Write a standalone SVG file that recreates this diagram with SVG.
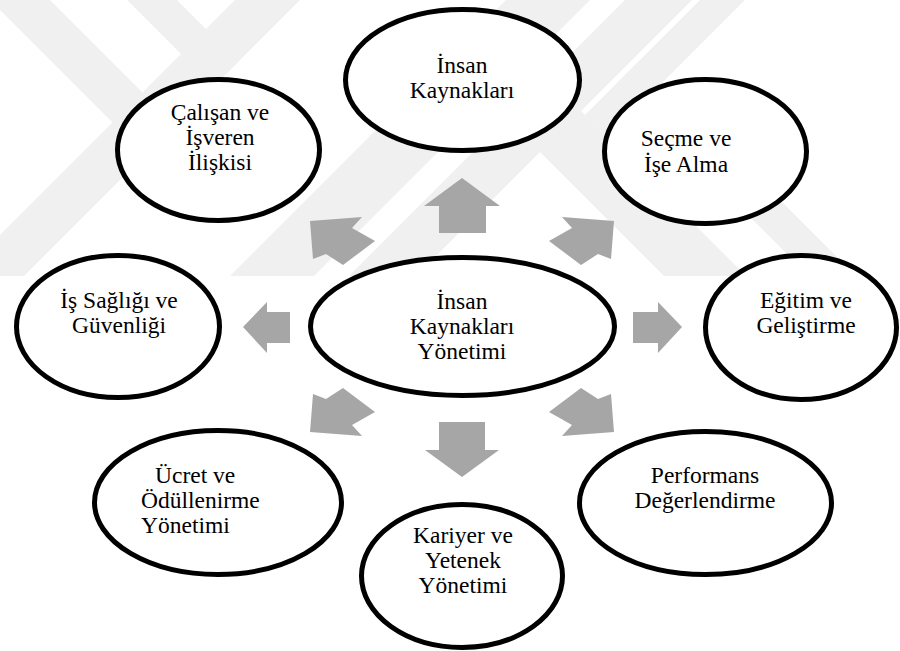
<svg xmlns="http://www.w3.org/2000/svg" width="900" height="651" viewBox="0 0 900 651">
  <style>
    .wm { fill: #f0f0f0; }
    .node ellipse { fill: #ffffff; stroke: #000000; stroke-width: 5; }
    .node text { font-size: 23.5px; fill: #000000; text-anchor: middle; }
    .node text.left { text-anchor: start; }
    .arrow { fill: #a6a6a6; }
  </style>
  <defs>
    <clipPath id="wmclip"><rect x="0" y="0" width="900" height="276"/></clipPath>
  </defs>
  <rect x="0" y="0" width="900" height="651" fill="#ffffff"/>
  <g id="watermark" clip-path="url(#wmclip)">
    <polygon class="wm" points="235,0 300,0 24,276 -41,276"/>
    <polygon class="wm" points="-10,0 50,0 175,125 145,155"/>
    <polygon class="wm" points="127,0 177,0 238.5,61.5 213.5,86.5"/>
    <polygon class="wm" points="506,0 590,0 314,276 230,276"/>
    <polygon class="wm" points="625,0 692,0 416,276 349,276"/>
    <polygon class="wm" points="506.5,118.5 547.5,77.5 746,276 664,276"/>
    <polygon class="wm" points="700,0 745,0 607.5,137.5 585,115"/>
    <polygon class="wm" points="616.5,83.5 640,60 856,276 809,276"/>
  </g>
  <g id="connectors">
    <polygon class="arrow" points="462,178 500,206 486,206 486,233 439,233 439,206 424,206"/>
    <polygon class="arrow" points="439,422 485,422 485,450 499,450 462,477 425,450 439,450"/>
    <polygon class="arrow" points="243,327 267,302 267,312 290,312 290,343 267,343 267,353"/>
    <polygon class="arrow" points="633,312 658,312 658,302 682,327 658,353 658,343 633,343"/>
    <polygon class="arrow" points="310,221 362,217 352,228 375,241 343,265 326,254 313,259"/>
    <polygon class="arrow" points="614,221 562,217 572,228 549,241 581,265 598,254 611,259"/>
    <polygon class="arrow" points="310,432 362,436 352,425 375,412 343,388 326,399 313,394"/>
    <polygon class="arrow" points="614,432 562,436 572,425 549,412 581,388 598,399 611,394"/>
  </g>
  <g font-family="'Liberation Serif', 'Times New Roman', serif">
  <g id="node-insan-kaynaklari" class="node">
    <ellipse cx="462.5" cy="80" rx="117" ry="70.5"/>
    <text x="462" y="72.5">İnsan</text>
    <text x="462" y="97.5">Kaynakları</text>
  </g>
  <g id="node-calisan-isveren" class="node">
    <ellipse cx="218.5" cy="150" rx="101" ry="70.5"/>
    <text x="220" y="120">Çalışan ve</text>
    <text x="220" y="145">İşveren</text>
    <text x="220" y="170">İlişkisi</text>
  </g>
  <g id="node-secme" class="node">
    <ellipse cx="705.5" cy="151.5" rx="101" ry="72"/>
    <text x="686" y="146">Seçme ve</text>
    <text x="686" y="172">İşe Alma</text>
  </g>
  <g id="node-ik-yonetimi" class="node">
    <ellipse cx="462.5" cy="326.5" rx="152" ry="69"/>
    <text x="462" y="309">İnsan</text>
    <text x="462" y="334">Kaynakları</text>
    <text x="462" y="359">Yönetimi</text>
  </g>
  <g id="node-is-sagligi" class="node">
    <ellipse cx="118" cy="326.5" rx="101.5" ry="71"/>
    <text x="119" y="308">İş Sağlığı ve</text>
    <text x="119" y="333">Güvenliği</text>
  </g>
  <g id="node-egitim" class="node">
    <ellipse cx="801" cy="327.5" rx="95.5" ry="72"/>
    <text x="806" y="308">Eğitim ve</text>
    <text x="806" y="333">Geliştirme</text>
  </g>
  <g id="node-ucret" class="node">
    <ellipse cx="218" cy="502.5" rx="123.5" ry="72"/>
    <text class="left" x="155" y="483">Ücret ve</text>
    <text class="left" x="141" y="508">Ödüllenirme</text>
    <text class="left" x="141" y="533">Yönetimi</text>
  </g>
  <g id="node-kariyer" class="node">
    <ellipse cx="462" cy="576" rx="100.5" ry="71.5"/>
    <text x="463" y="543">Kariyer ve</text>
    <text x="463" y="568">Yetenek</text>
    <text x="463" y="593">Yönetimi</text>
  </g>
  <g id="node-performans" class="node">
    <ellipse cx="705.5" cy="503" rx="126" ry="71.5"/>
    <text x="705" y="483">Performans</text>
    <text x="705" y="508">Değerlendirme</text>
  </g>
  </g>
</svg>
